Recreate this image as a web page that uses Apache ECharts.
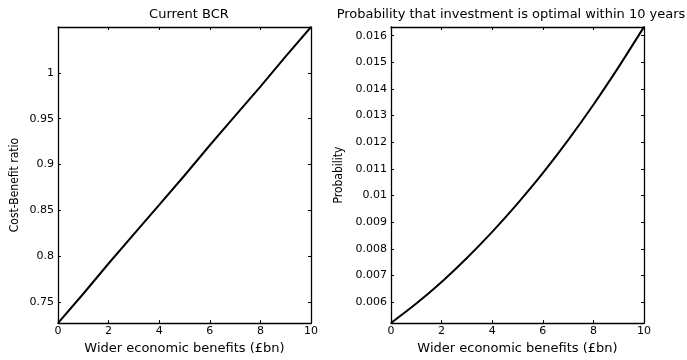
<!DOCTYPE html>
<html><head><meta charset="utf-8">
<script src="https://cdn.jsdelivr.net/npm/echarts@6/dist/echarts.min.js"></script>
<style>html,body{margin:0;padding:0;background:#fff}#c{width:687px;height:360px}</style>
</head><body><div id="c"></div>
<script>
// Shared x values (Wider economic benefits, £bn)
var xValues = [0, 1, 2, 3, 4, 5, 6, 7, 8, 9, 10];
// Left panel: Current BCR
var bcrValues = [0.727, 0.759, 0.792, 0.824, 0.856, 0.888, 0.921, 0.953, 0.985, 1.018, 1.050];
// Right panel: probability investment optimal within 10 years
var probValues = [0.00522, 0.00595, 0.00676, 0.00766, 0.00864, 0.00970, 0.01084, 0.01208, 0.01341, 0.01483, 0.01633];
// Tick labels
var xTicks = [0, 2, 4, 6, 8, 10];
var bcrTicks = [0.75, 0.8, 0.85, 0.9, 0.95, 1];
var probTicks = [0.006, 0.007, 0.008, 0.009, 0.01, 0.011, 0.012, 0.013, 0.014, 0.015, 0.016];
var titles = ['Current BCR', 'Probability that investment is optimal within 10 years'];
var xName = 'Wider economic benefits (£bn)';
var yNames = ['Cost-Benefit ratio', 'Probability'];

var FONT = '"DejaVu Sans", "Liberation Sans", Arial, sans-serif';
var NARROW = '"Liberation Sans Narrow", "DejaVu Sans Condensed", "Liberation Sans", sans-serif';
var chart = echarts.init(document.getElementById('c'), null, {renderer: 'canvas'});

function pairs(xs, ys) { return xs.map(function (x, i) { return [x, ys[i]]; }); }

function xAx(gi, pos, showLabel, name) {
  return {
    type: 'value', gridIndex: gi, position: pos, min: 0, max: 10,
    axisLine: {show: true, onZero: false, lineStyle: {color: '#000', width: 1.3}},
    axisTick: {show: true, inside: true, length: 3, customValues: xTicks, lineStyle: {color: '#000', width: 1}},
    axisLabel: {show: showLabel, customValues: xTicks, color: '#000', fontFamily: FONT, fontSize: 11, margin: 3},
    splitLine: {show: false},
    name: name || '', nameLocation: 'middle', nameGap: 16,
    nameTextStyle: {color: '#000', fontFamily: FONT, fontSize: 13}
  };
}
function yAx(gi, pos, showLabel, mn, mx, ticks, name, gap, pad) {
  return {
    type: 'value', gridIndex: gi, position: pos, min: mn, max: mx,
    axisLine: {show: true, onZero: false, lineStyle: {color: '#000', width: 1.3}},
    axisTick: {show: true, inside: true, length: 3, customValues: ticks, lineStyle: {color: '#000', width: 1}},
    axisLabel: {show: showLabel, customValues: ticks, color: '#000', fontFamily: FONT, fontSize: 11, margin: 4,
      formatter: function (v) { return String(parseFloat(v.toPrecision(6))); }},
    splitLine: {show: false},
    name: name || '', nameLocation: 'middle', nameGap: gap || 30,
    nameTextStyle: {color: '#000', fontFamily: NARROW, fontSize: 12, padding: pad || 0}
  };
}

chart.setOption({
  animation: false,
  backgroundColor: '#fff',
  title: [
    {text: titles[0], left: 184, top: 3, textAlign: 'center', textStyle: {fontFamily: FONT, fontSize: 13, fontWeight: 'normal', color: '#000'}},
    {text: titles[1], left: 506, top: 3, textAlign: 'center', textStyle: {fontFamily: FONT, fontSize: 13, fontWeight: 'normal', color: '#000'}}
  ],
  grid: [
    {left: 58, right: 376, top: 27, bottom: 26},
    {left: 391, right: 43, top: 27, bottom: 26}
  ],
  xAxis: [
    xAx(0, 'bottom', true, xName), xAx(0, 'top', false),
    xAx(1, 'bottom', true, xName), xAx(1, 'top', false)
  ],
  yAxis: [
    yAx(0, 'left', true, 0.727, 1.050, bcrTicks, yNames[0], 37, [0, 20, 0, 0]), yAx(0, 'right', false, 0.727, 1.050, bcrTicks),
    yAx(1, 'left', true, 0.005215, 0.016326, probTicks, yNames[1], 46, [0, 0, 0, 0]), yAx(1, 'right', false, 0.005215, 0.016326, probTicks)
  ],
  series: [
    {type: 'line', xAxisIndex: 0, yAxisIndex: 0, data: pairs(xValues, bcrValues), showSymbol: false,
      lineStyle: {color: '#000', width: 2}, clip: false},
    {type: 'line', xAxisIndex: 2, yAxisIndex: 2, data: pairs(xValues, probValues), showSymbol: false, smooth: 0.3,
      lineStyle: {color: '#000', width: 2}, clip: false}
  ]
});
</script></body></html>
